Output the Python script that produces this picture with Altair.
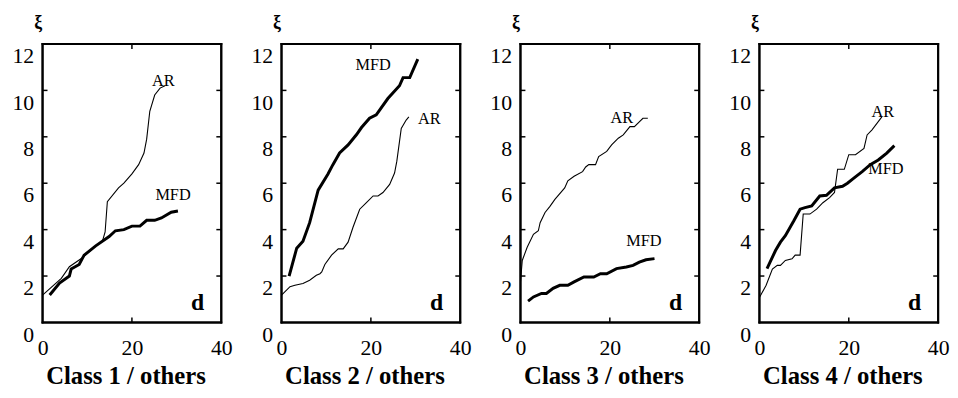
import altair as alt
import pandas as pd

FONT = "Liberation Serif"
W, H = 181, 282
TICK_PX = 5

TITLES = ["Class 1 / others", "Class 2 / others", "Class 3 / others", "Class 4 / others"]
X_DOMAIN = [0.0, 40.0]
Y_DOMAIN = [0.0, 12.0]
X_LABELS = [0, 20, 40]
Y_LABELS = [0, 2, 4, 6, 8, 10, 12]
X_TICKS = [20.0]
Y_TICKS = [2.0, 4.0, 6.0, 8.0, 10.0]

# Panel 1
P1_AR_D = [0, 4.2, 6, 9, 11.9, 13.4, 14, 14.5, 17, 18.2, 20, 21.5, 22.7, 23.3, 24, 25.1, 26.3, 27.4]
P1_AR_XI = [1.18, 1.9, 2.4, 2.8, 3.3, 3.5, 3.9, 5.2, 5.8, 6.0, 6.4, 6.8, 7.3, 7.9, 9.1, 9.8, 10.1, 10.2]
P1_MFD_D = [1.6, 3.8, 6, 6.4, 8.2, 9.3, 11.9, 14.9, 16.3, 18.2, 20, 21.8, 23.3, 25.1, 26.6, 28.8, 30.3]
P1_MFD_XI = [1.18, 1.7, 2.0, 2.3, 2.5, 2.9, 3.3, 3.7, 3.95, 4.0, 4.15, 4.15, 4.4, 4.4, 4.5, 4.75, 4.8]
P1_LABELS = [("AR", 27.0, 10.4), ("MFD", 29.2, 5.5)]

# Panel 2
P2_AR_D = [0, 1.9, 3, 4.8, 6.3, 7.8, 8.6, 9, 9.7, 11.2, 12.7, 13.8, 14.9, 16, 17.5, 19, 20.5, 21.6,
           22.7, 24.2, 25.3, 25.8, 26.8, 27.9, 28.5]
P2_AR_XI = [1.18, 1.54, 1.6, 1.68, 1.82, 2.03, 2.1, 2.18, 2.5, 2.9, 3.17, 3.17, 3.46, 4.1, 4.88, 5.16,
            5.45, 5.45, 5.6, 5.95, 6.44, 6.94, 8.36, 8.72, 8.86]
P2_MFD_D = [1.7, 3.4, 4.8, 6.3, 8.2, 10.4, 11.5, 13, 14.9, 16.8, 17.9, 19.7, 21.2, 23.8, 26.4, 27.2, 28.7, 30.5]
P2_MFD_XI = [2.0, 3.2, 3.5, 4.3, 5.7, 6.4, 6.8, 7.3, 7.65, 8.1, 8.4, 8.8, 8.95, 9.65, 10.2, 10.55, 10.55, 11.35]
P2_LABELS = [("MFD", 20.5, 11.1), ("AR", 33.1, 8.75)]

# Panel 3
P3_AR_D = [0, 0.4, 1.5, 2.9, 4, 4.4, 5.5, 6.6, 7.7, 9.9, 10.6, 12, 13.9, 14.6, 15.3, 16.8, 17.5, 19.3,
           20.4, 21.9, 23, 24.5, 25.5, 27.4, 28.5]
P3_AR_XI = [1.75, 2.67, 3.24, 3.8, 3.95, 4.3, 4.74, 5.0, 5.3, 5.8, 6.1, 6.3, 6.5, 6.7, 6.8, 6.8, 7.15,
            7.37, 7.65, 7.94, 8.08, 8.44, 8.44, 8.8, 8.8]
P3_MFD_D = [1.7, 2.9, 4.7, 5.8, 7.3, 8.8, 10.6, 12, 14.2, 16.4, 17.9, 19.3, 21.5, 23.7, 25.2, 26.6, 28.1, 30]
P3_MFD_XI = [0.92, 1.1, 1.25, 1.25, 1.47, 1.6, 1.6, 1.75, 1.96, 1.96, 2.1, 2.1, 2.32, 2.39, 2.46, 2.6, 2.7, 2.75]
P3_LABELS = [("AR", 22.7, 8.8), ("MFD", 27.6, 3.5)]

# Panel 4
P4_AR_D = [0, 1.5, 2.9, 4, 4.7, 5.8, 7.3, 8, 9.1, 9.8, 11.3, 12.8, 14.2, 15.7, 16.8, 17.5, 19, 20,
           21.5, 23.4, 24.1, 25.2, 27.4]
P4_AR_XI = [1.07, 1.6, 2.3, 2.46, 2.46, 2.67, 2.74, 2.9, 2.9, 4.67, 4.67, 4.88, 5.16, 5.38, 5.6, 6.6,
            6.6, 7.23, 7.23, 7.5, 8.08, 8.3, 8.86]
P4_MFD_D = [1.7, 3.6, 4.7, 5.8, 7.7, 9.1, 10.2, 11.7, 13.5, 15, 16.8, 18.6, 19.7, 21.2, 23, 24.8, 26.6, 28.5, 30.2]
P4_MFD_XI = [2.32, 3.1, 3.46, 3.74, 4.38, 4.88, 4.95, 5.02, 5.45, 5.48, 5.8, 5.87, 6.0, 6.23, 6.5, 6.8,
             7.0, 7.3, 7.62]
P4_LABELS = [("AR", 27.6, 9.05), ("MFD", 28.3, 6.6)]

D_MARK = (34.7, 0.54)


def frame_data():
    # box outline along the domain limits and inward ticks (as float data)
    x0, x1 = X_DOMAIN
    y0, y1 = Y_DOMAIN
    dx = (x1 - x0) * TICK_PX / W
    dy = (y1 - y0) * TICK_PX / H
    segs = [[(x0, y0), (x1, y0)], [(x1, y0), (x1, y1)], [(x1, y1), (x0, y1)], [(x0, y1), (x0, y0)]]
    box_d, box_xi, box_g = [], [], []
    for k, s in enumerate(segs):
        for (a, b) in s:
            box_d.append(float(a)); box_xi.append(float(b)); box_g.append(f"s{k}")
    tk_d, tk_xi, tk_g = [], [], []
    for v in Y_TICKS:
        for (a, b, g) in [(x0, v, "l"), (x0 + dx, v, "l"), (x1 - dx, v, "r"), (x1, v, "r")]:
            tk_d.append(float(a)); tk_xi.append(float(b)); tk_g.append(f"{g}{v}")
    for v in X_TICKS:
        for (a, b, g) in [(v, y0, "b"), (v, y0 + dy, "b"), (v, y1 - dy, "t"), (v, y1, "t")]:
            tk_d.append(float(a)); tk_xi.append(float(b)); tk_g.append(f"{g}{v}")
    box = pd.DataFrame({"d": box_d, "xi": box_xi, "g": box_g})
    ticks = pd.DataFrame({"d": tk_d, "xi": tk_xi, "g": tk_g})
    return box, ticks


def panel(title, ar_d, ar_xi, mfd_d, mfd_xi, labels):
    xs = alt.Scale(domain=X_DOMAIN, nice=False, zero=False)
    ys = alt.Scale(domain=Y_DOMAIN, nice=False, zero=False)
    xax = alt.Axis(values=X_LABELS, title=title, grid=False, domain=False, ticks=False, tickSize=0,
                   labelFont=FONT, labelFontSize=22, labelColor="black", labelPadding=15,
                   labelBaseline="top", labelAngle=0, labelFlush=False,
                   titleFont=FONT, titleFontSize=25, titleFontWeight="bold", titleColor="black",
                   titleX=84, titleY=61.5, titleAlign="center", titleBaseline="alphabetic")
    yax = alt.Axis(values=Y_LABELS, title="ξ", grid=False, domain=False, ticks=False, tickSize=0,
                   labelFont=FONT, labelFontSize=22, labelColor="black", labelPadding=9,
                   labelBaseline="middle", labelOffset=12, labelFlush=False,
                   titleFont=FONT, titleFontSize=18, titleFontWeight="bold", titleColor="black",
                   titleAngle=0, titleX=-5, titleY=-17, titleAlign="center", titleBaseline="alphabetic")

    ex = lambda f: alt.X(f, type="quantitative", scale=xs, axis=xax)
    ey = lambda f: alt.Y(f, type="quantitative", scale=ys, axis=yax)

    ar = pd.DataFrame({"d": [float(v) for v in ar_d], "xi": [float(v) for v in ar_xi]})
    mfd = pd.DataFrame({"d": [float(v) for v in mfd_d], "xi": [float(v) for v in mfd_xi]})
    lab = pd.DataFrame({"t": [l[0] for l in labels], "d": [float(l[1]) for l in labels],
                        "xi": [float(l[2]) for l in labels]})
    dm = pd.DataFrame({"t": ["d"], "d": [D_MARK[0]], "xi": [D_MARK[1]]})
    box, ticks = frame_data()

    f_box = alt.Chart(box).mark_line(color="black", strokeWidth=2, strokeCap="square").encode(
        x=ex("d"), y=ey("xi"), detail="g:N")
    f_ticks = alt.Chart(ticks).mark_line(color="black", strokeWidth=1.5).encode(
        x=ex("d"), y=ey("xi"), detail="g:N")
    l_ar = alt.Chart(ar).mark_line(color="black", strokeWidth=1.1).encode(x=ex("d"), y=ey("xi"))
    l_mfd = alt.Chart(mfd).mark_line(color="black", strokeWidth=3).encode(x=ex("d"), y=ey("xi"))
    t_lab = alt.Chart(lab).mark_text(font=FONT, fontSize=16.5, color="black", align="center",
                                     baseline="middle").encode(x=ex("d"), y=ey("xi"), text="t:N")
    t_d = alt.Chart(dm).mark_text(font=FONT, fontSize=24, fontWeight="bold", color="black",
                                  align="center", baseline="alphabetic").encode(x=ex("d"), y=ey("xi"), text="t:N")

    return alt.layer(f_box, f_ticks, l_ar, l_mfd, t_lab, t_d).properties(width=W, height=H)


panels = [
    panel(TITLES[0], P1_AR_D, P1_AR_XI, P1_MFD_D, P1_MFD_XI, P1_LABELS),
    panel(TITLES[1], P2_AR_D, P2_AR_XI, P2_MFD_D, P2_MFD_XI, P2_LABELS),
    panel(TITLES[2], P3_AR_D, P3_AR_XI, P3_MFD_D, P3_MFD_XI, P3_LABELS),
    panel(TITLES[3], P4_AR_D, P4_AR_XI, P4_MFD_D, P4_MFD_XI, P4_LABELS),
]

chart = alt.hconcat(*panels, spacing=17).properties(
    padding={"left": 3, "top": 2, "right": 0, "bottom": 0},
).configure_view(stroke="black", strokeWidth=2).configure_axis(
    labelFont=FONT, titleFont=FONT
).configure_text(font=FONT)

chart.save("out.html", embed_options={"renderer": "svg", "actions": False})
